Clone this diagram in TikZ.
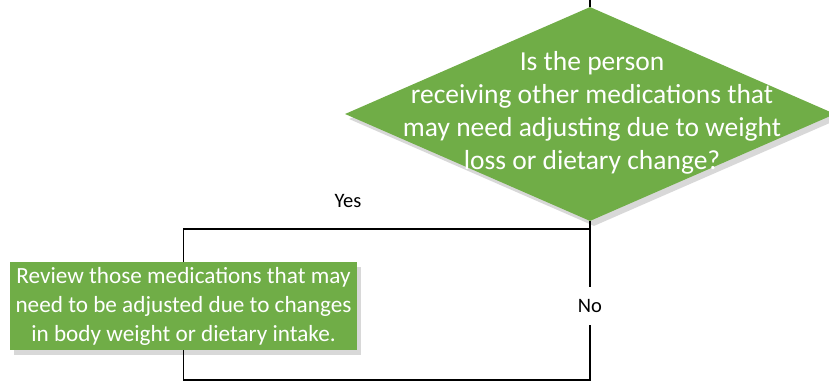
\documentclass[tikz,border=0pt]{standalone}
\usepackage{fontspec}
\setmainfont{Carlito}
\usetikzlibrary{shapes.geometric,shadows,calc}
\definecolor{flowgreen}{HTML}{70AD47}
\tikzset{
    decisionbox/.style={diamond, fill=flowgreen, inner sep=0pt, draw=none,
        minimum width=490pt, minimum height=214pt,
        drop shadow={shadow xshift=4pt, shadow yshift=-5pt, fill=black!30}},
    decisiontext/.style={align=center, text=white, font=\fontsize{27.5}{33}\selectfont},
    actionbox/.style={rectangle, fill=flowgreen, align=center, text=white,
        font=\fontsize{23.2}{29}\selectfont, minimum width=347pt, minimum height=88pt,
        inner sep=0pt,
        drop shadow={shadow xshift=4pt, shadow yshift=-5pt, fill=black!30}},
    answer/.style={font=\fontsize{20.5}{22}\selectfont, inner sep=2pt},
    flowline/.style={line width=1.3pt, black}
}
\begin{document}
\begin{tikzpicture}[x=1pt, y=-1pt]
\useasboundingbox (0,0) rectangle (829,382);
\node[decisionbox] (ask) at (590,114) {};
\node[decisiontext] (asktext) at (592,113) {Is the person\\receiving other medications that\\may need adjusting due to weight\\loss or dietary change?};
\node[actionbox] (review) at (183.5,306) {Review those medications that may\\need to be adjusted due to changes\\in body weight or dietary intake.};
\node[answer] (yes) at (348,201) {Yes};
\node[answer, minimum height=38pt] (no) at (590,306) {No};
\coordinate (entry) at (590,0);
\coordinate (split) at (590,229);
\coordinate (corner) at (590,380);
% connectors
\draw[flowline] (entry) -- (ask.north);
\draw[flowline] (ask.south) -- (split) -| (review.north);
\draw[flowline] (split) -- (no.north);
\draw[flowline] (no.south) -- (corner) -| (review.south);
\end{tikzpicture}
\end{document}
